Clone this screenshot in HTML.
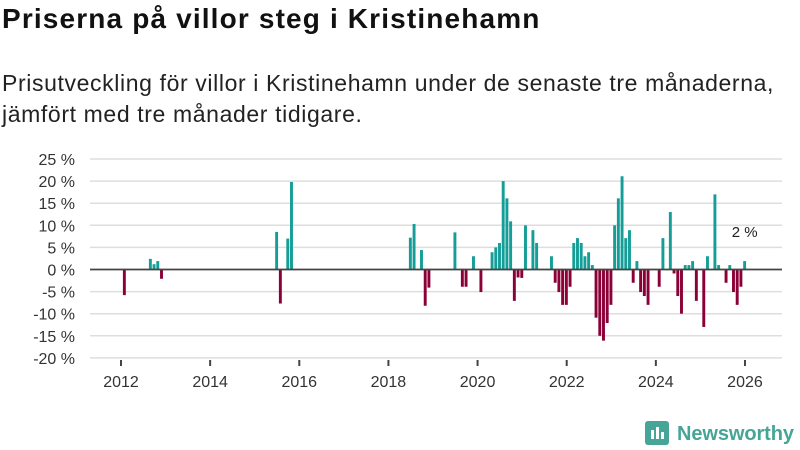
<!DOCTYPE html>
<html><head><meta charset="utf-8"><style>
body{margin:0;width:800px;height:450px;background:#fff;font-family:"Liberation Sans",sans-serif;overflow:hidden}
#title{position:absolute;left:2px;top:3px;font-size:28px;font-weight:bold;color:#111;letter-spacing:1.15px}
#sub{position:absolute;left:2px;top:68px;font-size:23px;line-height:31px;color:#222;letter-spacing:0.62px}
svg{position:absolute;left:0;top:0}
</style></head><body>
<div id="title">Priserna på villor steg i Kristinehamn</div>
<div id="sub">Prisutveckling för villor i Kristinehamn under de senaste tre månaderna,<br>jämfört med tre månader tidigare.</div>
<svg id="chart" width="800" height="450"></svg>
<script>
const startYear = 2012;
const yTicks = [25,20,15,10,5,0,-5,-10,-15,-20];
const xTickYears = [2012,2014,2016,2018,2020,2022,2024,2026];
const v2012 = [-5.8,0,0,0,0,0,0,2.4,1.2,1.9,-2.1,0];
const v2013 = [0,0,0,0,0,0,0,0,0,0,0,0];
const v2014 = [0,0,0,0,0,0,0,0,0,0,0,0];
const v2015 = [0,0,0,0,0,8.5,-7.7,0,7,19.8,0,0];
const v2016 = [0,0,0,0,0,0,0,0,0,0,0,0];
const v2017 = [0,0,0,0,0,0,0,0,0,0,0,0];
const v2018 = [0,0,0,0,0,7.2,10.3,0,4.4,-8.2,-4.1,0];
const v2019 = [0,0,0,0,0,8.4,0,-3.9,-3.9,0,3.0,0];
const v2020 = [-5.1,0,0,3.9,5.0,6.0,20.0,16.1,10.9,-7.1,-1.8,-1.9];
const v2021 = [10.0,0,8.9,6.0,0,0,0,3.0,-3.0,-5.1,-8.0,-8.0];
const v2022 = [-3.9,6.0,7.1,6.0,3.0,3.9,1.0,-10.9,-15.0,-16.1,-12.1,-8.0];
const v2023 = [10.0,16.1,21.1,7.1,8.9,-3.0,1.9,-5.1,-6.0,-8.0,0,0];
const v2024 = [-3.9,7.1,0,13.0,-0.9,-6.0,-10.0,1.0,1.0,1.9,-7.1,0];
const v2025 = [-13.0,3.0,0,17.0,1.0,0,-3.0,1.0,-5.1,-8.0,-3.9,1.9];
const lastLabel = "2 %";
const values = [].concat(v2012,v2013,v2014,v2015,v2016,v2017,v2018,v2019,v2020,v2021,v2022,v2023,v2024,v2025);

const NS="http://www.w3.org/2000/svg";
const svg=document.getElementById('chart');
const X0=121, PXY=44.57, Y0=269.5, PXP=4.42;
const x=t=>X0+(t-startYear)*PXY;
const y=v=>Y0-v*PXP;
function mk(tag,attrs,parent){const e=document.createElementNS(NS,tag);for(const k in attrs)e.setAttribute(k,attrs[k]);(parent||svg).appendChild(e);return e;}
yTicks.forEach(t=>{
  const g=mk('line',{x1:90,x2:782,y1:y(t),y2:y(t),stroke:'#dedede','stroke-width':1.5});
  
  
  const l=mk('text',{x:75,y:y(t)+6,'text-anchor':'end','font-size':16,fill:'#333'});
  l.textContent=t+' %';
  
  
});
xTickYears.forEach(yr=>{
  const t=mk('line',{x1:x(yr),x2:x(yr),y1:360,y2:366,stroke:'#444','stroke-width':2});
  
  
  const l=mk('text',{x:x(yr),y:387,'text-anchor':'middle','font-size':16,fill:'#333'});
  l.textContent=yr;
  
  
});
const bw=PXY/12;
values.forEach((v,i)=>{
  if(!v)return;
  const cx=x(startYear+(i+0.5)/12)+1.5;
  const r=mk('rect',{x:cx-bw/2+0.4,width:bw-0.8,y:Math.min(y(v),Y0),height:Math.abs(y(v)-Y0),fill:v>0?'#149e97':'#8b0037'});
  
  
});
const z=mk('line',{x1:90,x2:782,y1:Y0,y2:Y0,stroke:'#444','stroke-width':1.8});


const li=values.length-1;
const lab=mk('text',{x:x(startYear+(li+0.5)/12)+1.5,y:y(values[li])-24,'text-anchor':'middle','font-size':15,fill:'#222'});
lab.textContent=lastLabel;


</script>
<svg width="800" height="450">
<rect x="645" y="421" width="24" height="24" rx="3" fill="#46a596"/>
<rect x="651" y="430" width="3" height="9" fill="#fff"/><rect x="656" y="427" width="3" height="12" fill="#fff"/><rect x="661" y="432" width="3" height="7" fill="#fff"/>
<text x="677" y="440" font-size="20" font-weight="bold" fill="#46a596" font-family="Liberation Sans,sans-serif" textLength="117">Newsworthy</text>
</svg>
</body></html>
